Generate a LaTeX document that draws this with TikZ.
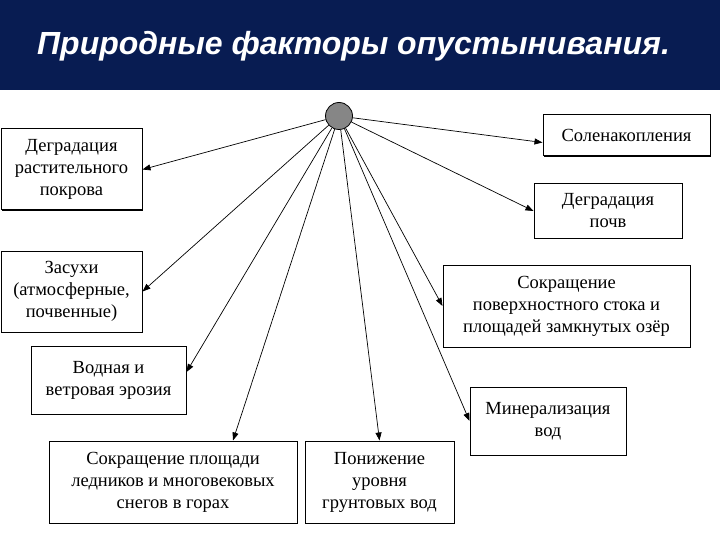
\documentclass[tikz,border=0pt]{standalone}
\usepackage{fontspec}
\setmainfont{Liberation Serif}
\newfontfamily\titlefont{Liberation Sans}
\usetikzlibrary{arrows.meta,shadows}
\definecolor{titlebg}{RGB}{8,28,82}

\begin{document}
\begin{tikzpicture}[x=1pt,y=-1pt,
    factor/.style={draw,line width=1pt,fill=white,align=center,inner sep=2pt,
      font=\fontsize{18.5}{22}\selectfont,
      drop shadow={shadow xshift=1.2pt,shadow yshift=-1.2pt,opacity=1,fill=black}},
    link/.style={-{Triangle[length=8pt,width=6pt]},line width=0.7pt}]
    \useasboundingbox (0,0) rectangle (720,540);

    % Title bar
    \fill[titlebg] (0,0) rectangle (720,90);
    \node[text=white,anchor=base west,inner sep=0pt,
      font=\titlefont\bfseries\itshape\fontsize{32}{38}\selectfont] (title) at (37,55)
      {Природные факторы опустынивания.};

    % Centre
    \node[circle,draw,line width=0.8pt,fill=gray!95,minimum size=27pt,inner sep=0pt] (hub) at (339,116) {};

    % Factors
    \node[factor,minimum width=141pt,minimum height=81pt] (veg) at (71.5,169.5)
      {Деградация\\растительного\\покрова};
    \node[factor,minimum width=141pt,minimum height=81pt] (drought) at (71.5,291.5)
      {Засухи\\(атмосферные,\\почвенные)};
    \node[factor,minimum width=155pt,minimum height=68pt] (erosion) at (108.5,380)
      {Водная и\\ветровая эрозия};
    \node[factor,minimum width=248pt,minimum height=82pt] (glacier) at (173,482)
      {Сокращение площади\\ледников и многовековых\\снегов в горах};
    \node[factor,minimum width=149pt,minimum height=82pt] (ground) at (379.5,482)
      {Понижение\\уровня\\грунтовых вод};
    \node[factor,minimum width=156pt,minimum height=68pt] (mineral) at (548,421)
      {Минерализация\\вод};
    \node[factor,minimum width=247pt,minimum height=82pt] (runoff) at (566.5,306)
      {Сокращение\\поверхностного стока и\\площадей замкнутых озёр};
    \node[factor,minimum width=148pt,minimum height=54pt] (soil) at (608,211)
      {Деградация\\почв};
    \node[factor,minimum width=167pt,minimum height=41pt] (salt) at (626.5,135.5)
      {Соленакопления};

    % Links
    \draw[link] (hub) -- (veg.east);
    \draw[link] (hub) -- (drought.east);
    \draw[link] (hub) -- ([yshift=8pt]erosion.east);
    \draw[link] (hub) -- ([xshift=60pt]glacier.north);
    \draw[link] (hub) -- (ground.north);
    \draw[link] (hub) -- (mineral.west);
    \draw[link] (hub) -- (runoff.west);
    \draw[link] (hub) -- (soil.west);
    \draw[link] (hub) -- ([yshift=-7pt]salt.west);
\end{tikzpicture}
\end{document}
